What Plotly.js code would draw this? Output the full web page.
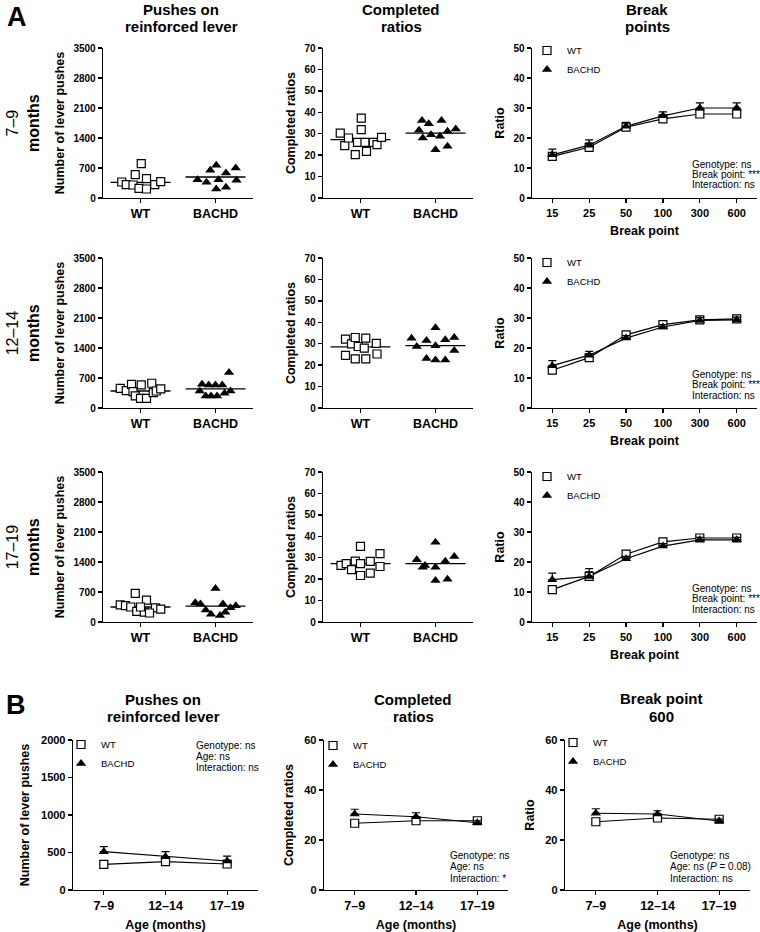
<!DOCTYPE html>
<html><head><meta charset="utf-8">
<script src="https://cdn.plot.ly/plotly-3.0.1.min.js"></script>
<style>html,body{margin:0;padding:0;background:#fff}#chart{width:760px;height:932px}</style>
</head><body><div id="chart"></div>
<script>
// ---------------- DATA ----------------
const groups = ['WT', 'BACHD'];
const breakPoints = ['15', '25', '50', '100', '300', '600'];
const ageGroups = ['7–9', '12–14', '17–19'];
const rowLabels = ['7–9', '12–14', '17–19'];

// Panel A, pushes on reinforced lever (individual animals)
const push79WT = [373, 311, 303, 544, 801, 225, 210, 451, 311, 381];
const push79WTjit = [-0.25, -0.19, -0.10, -0.07, 0.01, -0.02, 0.08, 0.08, 0.19, 0.27];
const push79WTmean = 365;
const push79BA = [428, 366, 646, 762, 428, 583, 210, 249, 700, 412];
const push79BAjit = [-0.24, -0.12, -0.07, 0.01, 0.04, 0.14, 0.01, 0.14, 0.27, 0.28];
const push79BAmean = 490;

const push1214WT = [460, 405, 553, 382, 281, 226, 538, 226, 577, 358, 397, 444];
const push1214WTjit = [-0.27, -0.19, -0.12, -0.10, -0.07, 0.0, 0.01, 0.08, 0.15, 0.17, 0.21, 0.27];
const push1214WTmean = 397;
const push1214BA = [395, 553, 281, 538, 281, 538, 281, 538, 343, 826, 395];
const push1214BAjit = [-0.21, -0.18, -0.13, -0.09, -0.06, 0.0, 0.02, 0.09, 0.12, 0.18, 0.20];
const push1214BAmean = 444;

const push1719WT = [667, 512, 400, 380, 350, 330, 300, 250, 230, 210, 350];
const push1719WTjit = [-0.07, 0.08, -0.27, -0.20, -0.13, 0.20, 0.27, -0.05, 0.05, 0.12, 0.0];
const push1719WTmean = 350;
const push1719BA = [784, 450, 420, 380, 330, 280, 230, 180, 150, 420];
const push1719BAjit = [0.0, -0.27, -0.20, 0.27, 0.20, -0.13, 0.13, -0.06, 0.06, 0.10];
const push1719BAmean = 370;

// Panel A, completed ratios (individual animals)
const ratio79WT = [30.3, 24.4, 28.0, 20.2, 26.0, 37.3, 31.9, 26.0, 21.8, 26.0, 24.9, 28.3];
const ratio79WTjit = [-0.27, -0.21, -0.16, -0.07, -0.04, 0.01, 0.01, 0.06, 0.08, 0.17, 0.22, 0.28];
const ratio79WTmean = 27.2;
const ratio79BA = [31.6, 36.2, 28.0, 34.7, 29.5, 22.5, 28.8, 36.2, 31.1, 24.1, 32.2];
const ratio79BAjit = [-0.22, -0.18, -0.17, -0.09, -0.06, 0.0, 0.06, 0.08, 0.16, 0.16, 0.27];
const ratio79BAmean = 30.3;

const ratio1214WT = [32.1, 24.6, 29.9, 32.9, 22.9, 28.7, 27.9, 32.6, 22.9, 30.2, 25.2];
const ratio1214WTjit = [-0.20, -0.20, -0.12, -0.07, -0.07, -0.03, 0.05, 0.07, 0.07, 0.21, 0.22];
const ratio1214WTmean = 28.5;
const ratio1214BA = [32.6, 28.7, 31.5, 37.5, 29.1, 31.8, 32.9, 26.8, 23.1, 22.4, 22.4];
const ratio1214BAjit = [-0.32, -0.25, -0.12, 0.0, 0.0, 0.13, 0.25, 0.25, -0.12, 0.0, 0.13];
const ratio1214BAmean = 29.1;

const ratio1719WT = [26.4, 27.2, 24.4, 28.4, 35.3, 27.2, 21.7, 28.3, 22.8, 31.9, 25.9];
const ratio1719WTjit = [-0.26, -0.19, -0.12, -0.07, 0.0, 0.0, 0.0, 0.13, 0.13, 0.26, 0.26];
const ratio1719WTmean = 27.2;
const ratio1719BA = [29.1, 25.6, 26.4, 37.2, 25.6, 19.4, 28.3, 20.0, 30.6];
const ratio1719BAjit = [-0.25, -0.17, -0.14, 0.0, 0.0, 0.0, 0.13, 0.16, 0.25];
const ratio1719BAmean = 27.2;

// Panel A, break points (mean, SEM)
const bp79WT = [13.9, 16.9, 23.6, 26.4, 28.0, 28.0];
const bp79WTerr = [1.0, 1.4, 0.8, 0.8, 1.0, 1.0];
const bp79BA = [14.4, 17.6, 23.9, 27.4, 30.0, 30.0];
const bp79BAerr = [1.9, 1.8, 1.3, 1.3, 1.7, 1.7];
const bp1214WT = [12.6, 16.8, 24.4, 27.8, 29.4, 29.7];
const bp1214WTerr = [1.0, 1.0, 0.8, 0.8, 0.8, 0.8];
const bp1214BA = [14.1, 17.6, 23.3, 27.0, 29.2, 29.4];
const bp1214BAerr = [1.7, 1.3, 0.8, 0.8, 0.9, 0.9];
const bp1719WT = [10.8, 15.2, 22.6, 26.7, 28.0, 28.0];
const bp1719WTerr = [1.0, 1.5, 1.0, 0.8, 0.8, 0.8];
const bp1719BA = [14.1, 15.2, 21.1, 25.3, 27.4, 27.4];
const bp1719BAerr = [2.2, 2.6, 0.8, 0.8, 0.8, 0.8];

// Panel B (mean, SEM by age)
const agePushWT = [342, 378, 347];
const agePushWTerr = [40, 40, 40];
const agePushBA = [511, 444, 387];
const agePushBAerr = [67, 67, 66];
const ageRatioWT = [26.7, 27.7, 27.7];
const ageRatioWTerr = [1.0, 1.0, 1.0];
const ageRatioBA = [30.4, 29.3, 26.9];
const ageRatioBAerr = [1.9, 1.6, 0.8];
const ageBp600WT = [27.3, 28.8, 28.3];
const ageBp600WTerr = [1.0, 1.0, 1.0];
const ageBp600BA = [30.7, 30.4, 27.6];
const ageBp600BAerr = [1.8, 1.3, 0.8];

// ---------------- LAYOUT HELPERS ----------------
const W = 760, H = 932;
const FONT = '"Liberation Sans", Arial, Helvetica, sans-serif';
const dx = (a, b) => [a / W, b / W];
const dy = (t, b) => [1 - b / H, 1 - t / H];
const PX = x => x / W, PY = y => 1 - y / H;

const layout = {
  width: W, height: H, margin: {l: 0, r: 0, t: 0, b: 0},
  paper_bgcolor: '#fff', plot_bgcolor: 'rgba(0,0,0,0)',
  font: {family: FONT, color: '#000'}, showlegend: true,
  annotations: [], hovermode: false
};
const traces = [];

function axBase() {
  return {showline: true, linecolor: '#000', linewidth: 1.3, ticks: 'outside', ticklen: 4,
          tickwidth: 1.3, tickcolor: '#000', showgrid: false, zeroline: false, fixedrange: true};
}
function addAxes(n, xd, yd, xo, yo) {
  const s = n === 1 ? '' : String(n);
  layout['xaxis' + s] = Object.assign(axBase(), {domain: xd, anchor: 'y' + s}, xo);
  layout['yaxis' + s] = Object.assign(axBase(), {domain: yd, anchor: 'x' + s}, yo);
  return ['x' + s, 'y' + s];
}
const wtMarker = {symbol: 'square', size: 8, color: '#fff', line: {color: '#000', width: 1.2}};
const baMarker = {symbol: 'triangle-up', size: 9, color: '#000', line: {color: '#000', width: 0}};

function dotPlot(n, xd, yd, yRange, dtick, yTitle, wv, wj, wm, bv, bj, bm, standoff) {
  const [xr, yr] = addAxes(n, xd, yd,
    {range: [-0.5, 1.5], tickvals: [0, 1], ticktext: groups, tickfont: {size: 12.5, weight: 'bold'}},
    {range: yRange, dtick: dtick, tick0: 0, tickfont: {size: 10, weight: 'bold'},
     title: {text: yTitle, font: {size: 12.5, weight: 'bold'}, standoff: standoff}});
  traces.push({type: 'scatter', mode: 'lines', x: [-0.4, 0.4], y: [wm, wm], xaxis: xr, yaxis: yr,
               line: {color: '#000', width: 1.3}, showlegend: false});
  traces.push({type: 'scatter', mode: 'lines', x: [0.6, 1.4], y: [bm, bm], xaxis: xr, yaxis: yr,
               line: {color: '#000', width: 1.3}, showlegend: false});
  traces.push({type: 'scatter', mode: 'markers', x: wv.map((v, i) => 0 + wj[i]), y: wv, xaxis: xr, yaxis: yr,
               marker: wtMarker, showlegend: false, cliponaxis: false});
  traces.push({type: 'scatter', mode: 'markers', x: bv.map((v, i) => 1 + bj[i]), y: bv, xaxis: xr, yaxis: yr,
               marker: baMarker, showlegend: false, cliponaxis: false});
}

function errY(err) {
  return {type: 'data', symmetric: false, array: err, arrayminus: err.map(() => 0),
          color: '#000', thickness: 1.2, width: 4};
}

function linePlot(n, xd, yd, cats, xRange, xTitle, xFont, yRange, dtick, yTitle, yFont,
                  wv, we, bv, be, legId, legPos, standoff) {
  const [xr, yr] = addAxes(n, xd, yd,
    {type: 'category', range: xRange, tickfont: {size: xFont, weight: 'bold'},
     title: {text: xTitle, font: {size: 12.5, weight: 'bold'}, standoff: 8}},
    {range: yRange, dtick: dtick, tick0: 0, tickfont: {size: yFont, weight: 'bold'},
     title: {text: yTitle, font: {size: 12.5, weight: 'bold'}, standoff: standoff}});
  // connecting lines (no legend entry)
  traces.push({type: 'scatter', mode: 'lines', x: cats, y: wv, xaxis: xr, yaxis: yr,
               line: {color: '#000', width: 1.2}, showlegend: false});
  traces.push({type: 'scatter', mode: 'lines', x: cats, y: bv, xaxis: xr, yaxis: yr,
               line: {color: '#000', width: 1.2}, showlegend: false});
  // markers with SEM bars (legend entries)
  traces.push({type: 'scatter', mode: 'markers', name: 'WT', x: cats, y: wv, xaxis: xr, yaxis: yr,
               error_y: errY(we), marker: wtMarker, legend: legId, cliponaxis: false});
  traces.push({type: 'scatter', mode: 'markers', name: 'BACHD', x: cats, y: bv, xaxis: xr, yaxis: yr,
               error_y: errY(be), marker: baMarker, legend: legId, cliponaxis: false});
  layout[legId] = {x: PX(legPos[0]), y: PY(legPos[1]), xanchor: 'left', yanchor: 'top',
                   bgcolor: 'rgba(0,0,0,0)', borderwidth: 0, font: {size: 9.5, family: FONT},
                   itemwidth: 30, tracegroupgap: 0, traceorder: 'normal'};
}

function ann(text, x, y, opts) {
  layout.annotations.push(Object.assign({text: text, x: PX(x), y: PY(y), xref: 'paper', yref: 'paper',
    showarrow: false, xanchor: 'center', yanchor: 'middle', font: {size: 10, family: FONT}}, opts || {}));
}
function stats(lines, x, y0, step) {
  lines.forEach((t, i) => ann(t, x, y0 + i * step, {xanchor: 'left', font: {size: 10}}));
}

// ---------------- PANEL A ----------------
const colX = [[103, 253], [323, 473], [532, 757]];
const rowY = [[48, 198], [258, 408], [472, 622]];

const pushSets = [
  [push79WT, push79WTjit, push79WTmean, push79BA, push79BAjit, push79BAmean],
  [push1214WT, push1214WTjit, push1214WTmean, push1214BA, push1214BAjit, push1214BAmean],
  [push1719WT, push1719WTjit, push1719WTmean, push1719BA, push1719BAjit, push1719BAmean]];
const ratioSets = [
  [ratio79WT, ratio79WTjit, ratio79WTmean, ratio79BA, ratio79BAjit, ratio79BAmean],
  [ratio1214WT, ratio1214WTjit, ratio1214WTmean, ratio1214BA, ratio1214BAjit, ratio1214BAmean],
  [ratio1719WT, ratio1719WTjit, ratio1719WTmean, ratio1719BA, ratio1719BAjit, ratio1719BAmean]];
const bpSets = [
  [bp79WT, bp79WTerr, bp79BA, bp79BAerr],
  [bp1214WT, bp1214WTerr, bp1214BA, bp1214BAerr],
  [bp1719WT, bp1719WTerr, bp1719BA, bp1719BAerr]];
const legTops = [36, 248, 462];
const statTops = [164, 374, 588];

for (let r = 0; r < 3; r++) {
  const yd = dy(rowY[r][0], rowY[r][1]);
  const p = pushSets[r], q = ratioSets[r], b = bpSets[r];
  dotPlot(r * 3 + 1, dx(colX[0][0], colX[0][1]), yd, [0, 3500], 700, 'Number of lever pushes',
          p[0], p[1], p[2], p[3], p[4], p[5], 6);
  dotPlot(r * 3 + 2, dx(colX[1][0], colX[1][1]), yd, [0, 70], 10, 'Completed ratios',
          q[0], q[1], q[2], q[3], q[4], q[5], 6);
  linePlot(r * 3 + 3, dx(colX[2][0], colX[2][1]), yd, breakPoints, [-0.55, 5.55], 'Break point', 11,
           [0, 50], 10, 'Ratio', 10, b[0], b[1], b[2], b[3], r === 0 ? 'legend' : 'legend' + (r + 1),
           [527, legTops[r]], 6);
  stats(['Genotype: ns', 'Break point: ***', 'Interaction: ns'], 690, statTops[r], 10.5);
  ann(rowLabels[r] + '<br><b>months</b>', 23, (rowY[r][0] + rowY[r][1]) / 2,
      {textangle: -90, font: {size: 16, family: FONT}});
}

// ---------------- PANEL B ----------------
const bX = [[73, 258], [324, 508], [565, 750]];
const bY = dy(740, 890);
linePlot(10, dx(bX[0][0], bX[0][1]), bY, ageGroups, [-0.5, 2.5], 'Age (months)', 12.5,
         [0, 2000], 500, 'Number of lever pushes', 11, agePushWT, agePushWTerr, agePushBA, agePushBAerr,
         'legend4', [61, 730], 8);
linePlot(11, dx(bX[1][0], bX[1][1]), bY, ageGroups, [-0.5, 2.5], 'Age (months)', 12.5,
         [0, 60], 20, 'Completed ratios', 11, ageRatioWT, ageRatioWTerr, ageRatioBA, ageRatioBAerr,
         'legend5', [313, 731], 8);
linePlot(12, dx(bX[2][0], bX[2][1]), bY, ageGroups, [-0.5, 2.5], 'Age (months)', 12.5,
         [0, 60], 20, 'Ratio', 11, ageBp600WT, ageBp600WTerr, ageBp600BA, ageBp600BAerr,
         'legend6', [553, 728], 8);
stats(['Genotype: ns', 'Age: ns', 'Interaction: ns'], 194, 745, 11);
stats(['Genotype: ns', 'Age: ns', 'Interaction: *'], 448, 855, 11.5);
stats(['Genotype: ns', 'Age: ns (<i>P</i> = 0.08)', 'Interaction: ns'], 668, 855, 11.5);

// ---------------- TITLES / LETTERS ----------------
const tf = {size: 15, family: FONT, weight: 'bold'};
ann('Pushes on', 181, 9, {font: tf});
ann('reinforced lever', 181, 26, {font: tf});
ann('Completed', 401, 9, {font: tf});
ann('ratios', 401, 26, {font: tf});
ann('Break', 647, 9, {font: tf});
ann('points', 647, 26, {font: tf});
ann('Pushes on', 163, 699, {font: tf});
ann('reinforced lever', 163, 716, {font: tf});
ann('Completed', 413, 699, {font: tf});
ann('ratios', 413, 716, {font: tf});
ann('Break point', 661, 698, {font: tf});
ann('600', 661, 716, {font: tf});
ann('A', 5, 0, {xanchor: 'left', yanchor: 'top', font: {size: 27, family: FONT, weight: 'bold'}});
ann('B', 4, 688, {xanchor: 'left', yanchor: 'top', font: {size: 27, family: FONT, weight: 'bold'}});

Plotly.newPlot('chart', traces, layout, {staticPlot: true, displayModeBar: false});
</script>
</body></html>
